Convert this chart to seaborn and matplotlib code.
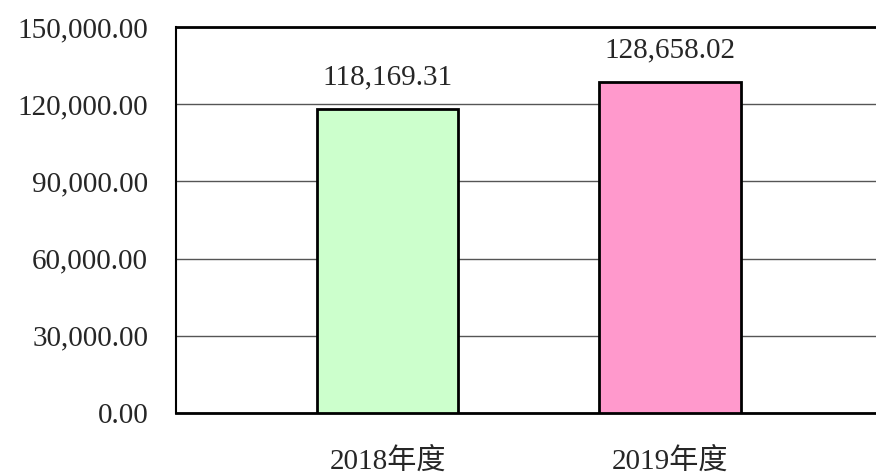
import matplotlib
matplotlib.use("Agg")
import matplotlib.pyplot as plt
import seaborn as sns
import pandas as pd
from matplotlib.ticker import FuncFormatter

# chart data
years = ["2018年度", "2019年度"]
amounts = [118169.31, 128658.02]
bar_colors = ["#CCFFCC", "#FF99CC"]
y_ticks = [0, 30000, 60000, 90000, 120000, 150000]

sns.set_theme(style="white")
plt.rcParams["font.family"] = ["Liberation Serif", "Noto Sans CJK SC", "DejaVu Sans"]

df = pd.DataFrame({"year": years, "amount": amounts})

fig = plt.figure(figsize=(8.76, 4.76), dpi=100)
ax = fig.add_axes([176 / 876, 63 / 476, 700 / 876, 386 / 476])

sns.barplot(data=df, x="year", y="amount", hue="year", palette=bar_colors,
            saturation=1, width=0.5, edgecolor="black", linewidth=2,
            legend=False, ax=ax, zorder=3)

ax.set_xlim(-0.75, 1.73)
ax.set_ylim(0, 150000)
ax.set_yticks(y_ticks)
ax.yaxis.set_major_formatter(FuncFormatter(lambda v, p: f"{v:,.2f}"))
ax.grid(axis="y", color="#555555", linewidth=1, zorder=0)
ax.set_xlabel("")
ax.set_ylabel("")

for side in ["left", "top", "bottom"]:
    ax.spines[side].set_visible(True)
    ax.spines[side].set_color("black")
ax.spines["left"].set_linewidth(1.5)
ax.spines["top"].set_linewidth(2)
ax.spines["bottom"].set_linewidth(2)
ax.spines["right"].set_visible(False)

ax.tick_params(axis="y", length=0, pad=20, labelsize=21)
ax.tick_params(axis="x", length=0, pad=25, labelsize=21)

# value labels above bars
for i, v in enumerate(amounts):
    ax.annotate(f"{v:,.2f}", xy=(i, v), xytext=(0, 13), textcoords="offset points",
                ha="center", va="bottom", fontsize=21)

fig.savefig("out.png", dpi=100)
